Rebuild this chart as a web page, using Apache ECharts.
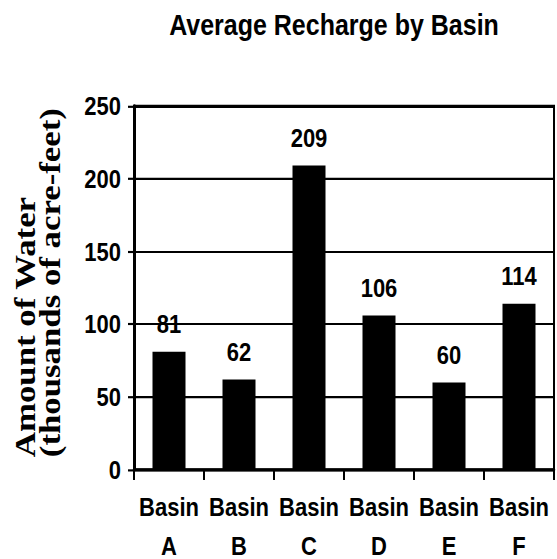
<!DOCTYPE html>
<html>
<head>
<meta charset="utf-8">
<script src="https://cdn.jsdelivr.net/npm/echarts@6/dist/echarts.min.js"></script>
<style>
  html, body { margin: 0; padding: 0; background: #fff; }
  #frame { width: 557px; height: 559px; position: relative; }
  /* drawn at reduced height and stretched vertically for tall, narrow lettering */
  #chart { position: absolute; left: 0; top: 0; width: 557px; height: 465.8px;
           transform: scaleY(1.2); transform-origin: 0 0; }
</style>
</head>
<body>
<div id="frame"><div id="chart"></div></div>
<script>
// Average recharge per basin, thousands of acre-feet
const basins = ['Basin\nA', 'Basin\nB', 'Basin\nC', 'Basin\nD', 'Basin\nE', 'Basin\nF'];
const recharge = [81, 62, 209, 106, 60, 114];
const yTicks = [0, 50, 100, 150, 200, 250];

const sans = "'Liberation Sans', Arial, sans-serif";
const serif = "'Liberation Serif', 'Times New Roman', serif";

const chart = echarts.init(document.getElementById('chart'), null, { renderer: 'svg' });
chart.setOption({
  animation: false,
  backgroundColor: '#fff',
  title: {
    text: 'Average Recharge by Basin',
    left: 329,
    top: 3,
    textAlign: 'center',
    textStyle: { fontFamily: sans, fontWeight: 'bold', fontSize: 25, color: '#000' }
  },
  grid: {
    left: 134, right: 3, top: 88.3, bottom: 74.6,
    containLabel: false, outerBoundsMode: 'none',
    show: true, borderColor: '#000', borderWidth: 2, backgroundColor: 'transparent'
  },
  graphic: [{
    type: 'text',
    x: 38, y: 381,
    rotation: Math.PI / 2,
    style: {
      text: 'Amount of Water\n(thousands of acre-feet)',
      fontFamily: serif, fontWeight: 'bold', fontSize: 29, lineHeight: 25,
      fill: '#000', align: 'left', verticalAlign: 'middle'
    }
  }],
  xAxis: {
    type: 'category',
    data: basins,
    axisLine: { lineStyle: { color: '#000', width: 2.5 } },
    axisTick: { show: true, length: 8.5, lineStyle: { color: '#000', width: 2 } },
    axisLabel: {
      margin: 14, color: '#000', fontFamily: sans, fontWeight: 'bold',
      fontSize: 22, lineHeight: 33, interval: 0
    }
  },
  yAxis: {
    type: 'value',
    min: yTicks[0], max: yTicks[yTicks.length - 1], interval: 50,
    axisLine: { show: true, lineStyle: { color: '#000', width: 3 } },
    axisTick: { show: true, length: 6, lineStyle: { color: '#000', width: 1.8 } },
    splitLine: { lineStyle: { color: '#000', width: 1.8 } },
    axisLabel: {
      margin: 13, color: '#000', fontFamily: sans, fontWeight: 'bold', fontSize: 22
    }
  },
  series: [{
    type: 'bar',
    data: recharge,
    barWidth: 33,
    itemStyle: { color: '#000' },
    label: {
      show: true, position: 'top', distance: 12, color: '#000',
      fontFamily: sans, fontWeight: 'bold', fontSize: 22
    }
  }]
});
</script>
</body>
</html>
